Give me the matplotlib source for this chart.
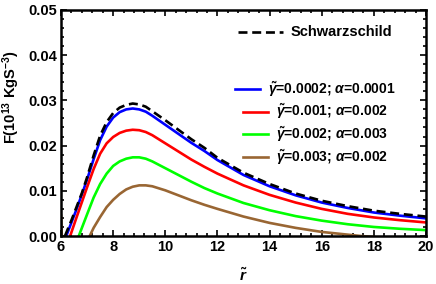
import numpy as np
import matplotlib
matplotlib.use('Agg')
from matplotlib import pyplot as plt
from matplotlib.ticker import MultipleLocator, FormatStrFormatter

plt.rcParams['font.family'] = ['Liberation Sans', 'DejaVu Sans']
plt.rcParams['font.weight'] = 'bold'
plt.rcParams['mathtext.fontset'] = 'custom'
plt.rcParams['mathtext.rm'] = 'Liberation Sans:bold'
plt.rcParams['mathtext.it'] = 'Liberation Sans:italic:bold'
plt.rcParams['mathtext.bf'] = 'Liberation Sans:bold'

# values
r_schw = [6.15, 6.4, 6.6, 6.8, 7.0, 7.25, 7.5, 7.75, 8.0, 8.25, 8.5, 8.75, 9.0, 9.25, 9.5,
          10.0, 10.5, 11.0, 11.5, 12.0, 13.0, 14.0, 15.0, 16.0, 17.0, 18.0, 19.0, 20.0]
f_schw = [0.0, 0.0035, 0.0065, 0.0095, 0.0130, 0.0178, 0.0222, 0.0252, 0.0272, 0.0284, 0.0290,
          0.0293, 0.0291, 0.0286, 0.0276, 0.0256, 0.0235, 0.0214, 0.0195, 0.0173, 0.0140, 0.0115,
          0.0094, 0.0078, 0.0066, 0.0056, 0.0049, 0.0043]

r_blue = [6.2, 6.4, 6.6, 6.8, 7.0, 7.25, 7.5, 7.75, 8.0, 8.25, 8.5, 8.75, 9.0, 9.25, 9.5,
          10.0, 10.5, 11.0, 11.5, 12.0, 13.0, 14.0, 15.0, 16.0, 17.0, 18.0, 19.0, 20.0]
f_blue = [0.0, 0.0030, 0.0060, 0.0092, 0.0125, 0.0170, 0.0212, 0.0242, 0.0262, 0.0274, 0.0280,
          0.0282, 0.0280, 0.0275, 0.0266, 0.0246, 0.0226, 0.0206, 0.0188, 0.0168, 0.0135, 0.0110,
          0.0090, 0.0074, 0.0062, 0.0052, 0.0045, 0.0039]

r_red = [6.35, 6.6, 6.8, 7.0, 7.25, 7.5, 7.75, 8.0, 8.25, 8.5, 8.75, 9.0, 9.25, 9.5,
         10.0, 10.5, 11.0, 11.5, 12.0, 13.0, 14.0, 15.0, 16.0, 17.0, 18.0, 19.0, 20.0]
f_red = [0.0, 0.0042, 0.0075, 0.0108, 0.0148, 0.0182, 0.0205, 0.0219, 0.0228, 0.0233, 0.0235,
         0.0234, 0.0230, 0.0223, 0.0205, 0.0187, 0.0169, 0.0153, 0.0138, 0.0112, 0.0091, 0.0074,
         0.0060, 0.0049, 0.0041, 0.0035, 0.0030]

r_green = [6.68, 6.8, 7.0, 7.25, 7.5, 7.75, 8.0, 8.25, 8.5, 8.75, 9.0, 9.25, 9.5,
           10.0, 10.5, 11.0, 11.5, 12.0, 13.0, 14.0, 15.0, 16.0, 17.0, 18.0, 19.0, 20.0]
f_green = [0.0, 0.0018, 0.0048, 0.0085, 0.0115, 0.0138, 0.0155, 0.0165, 0.0171, 0.0174, 0.0174,
           0.0171, 0.0165, 0.0150, 0.0135, 0.0120, 0.0106, 0.0094, 0.0073, 0.0057, 0.0044, 0.0034,
           0.0026, 0.0020, 0.0016, 0.0013]

r_brown = [7.1, 7.25, 7.5, 7.75, 8.0, 8.25, 8.5, 8.75, 9.0, 9.25, 9.5, 10.0, 10.5, 11.0, 11.5,
           12.0, 13.0, 14.0, 15.0, 16.0, 17.0, 17.5, 18.0]
f_brown = [0.0, 0.0018, 0.0042, 0.0064, 0.0080, 0.0093, 0.0103, 0.0109, 0.0112, 0.0112, 0.0110,
           0.0101, 0.0090, 0.0079, 0.0069, 0.0060, 0.0043, 0.0029, 0.0018, 0.0009, 0.0003, 0.0,
           -0.0002]
r_brown_left = [6.0, 6.03]
f_brown_left = [0.0045, 0.0]

labels = [r'$\tilde{\gamma}$=0.0002; $\alpha$=0.0001',
          r'$\tilde{\gamma}$=0.001; $\alpha$=0.002',
          r'$\tilde{\gamma}$=0.002; $\alpha$=0.003',
          r'$\tilde{\gamma}$=0.003; $\alpha$=0.002']
colors = ['#0000FF', '#FF0000', '#00FF00', '#996633']

fig = plt.figure(figsize=(4.36, 2.84), dpi=100)
ax = fig.add_axes([0.140, 0.169, 0.837, 0.796])

lw = 1.9
dash = (0, (3.4, 1.8))
ax.plot(r_blue, f_blue, color=colors[0], lw=lw)
ax.plot(r_red, f_red, color=colors[1], lw=lw)
ax.plot(r_green, f_green, color=colors[2], lw=lw)
ax.plot(r_brown, f_brown, color=colors[3], lw=lw)
ax.plot(r_brown_left, f_brown_left, color=colors[3], lw=lw)
ax.plot(r_schw, f_schw, color='black', lw=lw, ls=dash)

ax.set_xlim(6, 20)
ax.set_ylim(0, 0.05)
ax.xaxis.set_major_locator(MultipleLocator(2))
ax.xaxis.set_minor_locator(MultipleLocator(0.4))
ax.yaxis.set_major_locator(MultipleLocator(0.01))
ax.yaxis.set_minor_locator(MultipleLocator(0.002))
ax.yaxis.set_major_formatter(FormatStrFormatter('%.2f'))
ax.tick_params(which='both', direction='in', top=True, right=True, width=1.2,
               labelsize=10.5, pad=3)
ax.tick_params(which='major', length=4)
ax.tick_params(which='minor', length=2)
for s in ax.spines.values():
    s.set_linewidth(1.8)

ax.set_ylabel(r'F(10$^{13}$ KgS$^{-3}$)', fontsize=10.5, fontweight='bold')
ax.yaxis.set_label_coords(-0.108, 0.615)
ax.set_xlabel(r'$\tilde{r}$', fontsize=11, fontweight='bold', labelpad=9)

# centred legend entries, like the reference
renderer = fig.canvas.get_renderer()
cx = 315
gap = 8


def legend_entry(y_px, text, color, ls='-', line_len=25, size=10):
    t = fig.text(0, 0, text, fontsize=size, fontweight='bold', va='center')
    w = t.get_window_extent(renderer).width
    x0 = cx - (line_len + gap + w) / 2
    H = fig.get_figheight() * fig.dpi
    W = fig.get_figwidth() * fig.dpi
    t.set_position(((x0 + line_len + gap) / W, 1 - y_px / H))
    fig.add_artist(plt.Line2D([x0 / W, (x0 + line_len) / W], [1 - y_px / H] * 2,
                              color=color, lw=lw, ls=ls))


legend_entry(32, 'Schwarzschild', 'black', ls=dash, line_len=45, size=10.5)
for i, (lab, c) in enumerate(zip(labels, colors)):
    legend_entry(89 + i * 22.7, lab, c)

fig.savefig('out.png', dpi=100)
